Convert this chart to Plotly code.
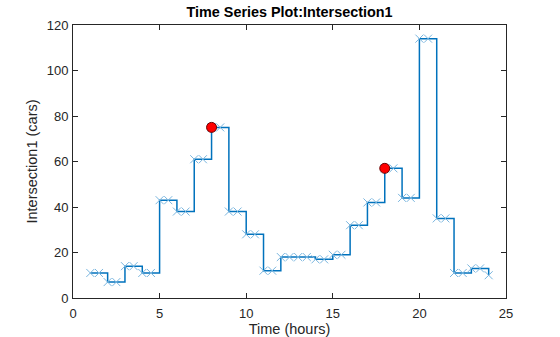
import plotly.graph_objects as go

hours = list(range(1, 25))
cars = [11, 7, 14, 11, 43, 38, 61, 75, 38, 28, 12, 18, 18, 17, 19, 32, 42, 57, 44, 114, 35, 11, 13, 10]
event_times = [8, 18]
event_labels = ["AMCommute", "PMCommute"]
x_ticks = [0, 5, 10, 15, 20, 25]
y_ticks = [0, 20, 40, 60, 80, 100, 120]

# markers at each sample and half-way along each held step (zoh display)
mx, my = [], []
for i, (t, v) in enumerate(zip(hours, cars)):
    mx.append(t); my.append(v)
    if i < len(hours) - 1:
        mx.append(t + 0.5); my.append(v)

ev_y = [cars[hours.index(t)] for t in event_times]

FONT = "Liberation Sans, Arial, sans-serif"

fig = go.Figure()
fig.add_trace(go.Scatter(x=hours, y=cars, mode="lines", line=dict(color="#0072BD", width=1.5, shape="hv"),
                         showlegend=False, hoverinfo="skip"))
fig.add_trace(go.Scatter(x=mx, y=my, mode="markers",
                         marker=dict(symbol="x-thin", size=8, line=dict(color="#7ab6df", width=1)),
                         showlegend=False))
fig.add_trace(go.Scatter(x=event_times, y=ev_y, mode="markers", text=event_labels,
                         marker=dict(symbol="circle", size=10, color="#ff0000", line=dict(color="#6a0000", width=1)),
                         showlegend=False))

axis_common = dict(showline=True, mirror="ticks", ticks="inside", ticklen=5, tickwidth=1,
                   linecolor="#262626", tickcolor="#262626", linewidth=1, showgrid=False, zeroline=False,
                   automargin=False,
                   tickfont=dict(family=FONT, size=13, color="#262626"))
fig.update_xaxes(range=[0, 25], tickvals=x_ticks, ticklabelstandoff=3, **axis_common,
                 title=dict(text="Time (hours)", standoff=3,
                            font=dict(family=FONT, size=14.5, color="#262626")))
fig.update_yaxes(range=[0, 120], tickvals=y_ticks, ticklabelstandoff=1, **axis_common,
                 title=dict(text="Intersection1 (cars)", standoff=5,
                            font=dict(family=FONT, size=14.5, color="#262626")))
fig.update_layout(
    template="none",
    width=560, height=337,
    margin=dict(l=73, r=54, t=25, b=39, autoexpand=False),
    paper_bgcolor="white", plot_bgcolor="white",
    title=dict(text="<b>Time Series Plot:Intersection1</b>", x=(73 + 506) / 2 / 560, xanchor="center",
               y=1 - 12 / 337, yanchor="middle",
               font=dict(family=FONT, size=14.4, color="#000000")),
)
fig.write_html("out.html")
